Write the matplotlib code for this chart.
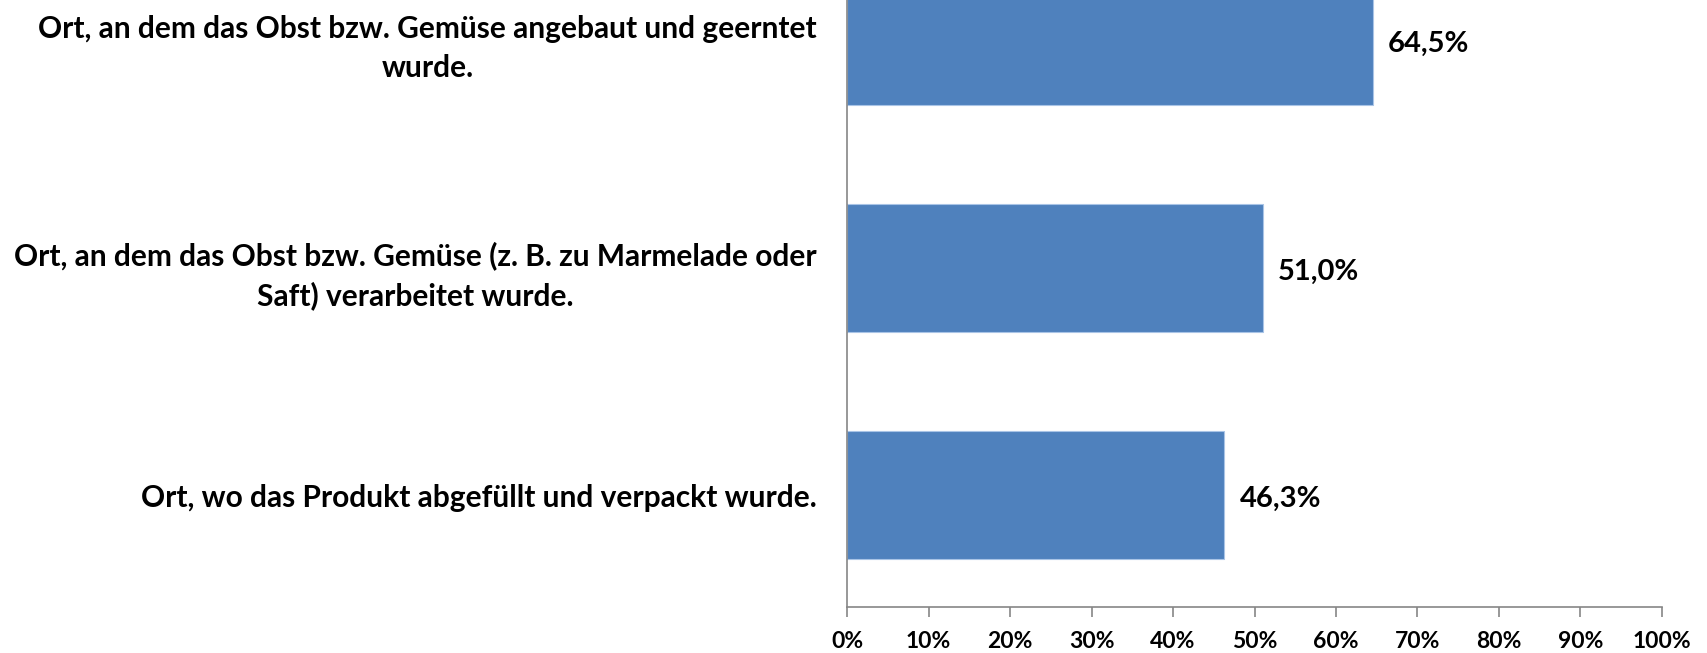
import matplotlib
matplotlib.use("Agg")
import matplotlib.pyplot as plt
from matplotlib.ticker import FuncFormatter

# bottom -> top
categories = [
    "Ort, wo das Produkt abgefüllt und verpackt wurde.",
    "Ort, an dem das Obst bzw. Gemüse (z. B. zu Marmelade oder\nSaft) verarbeitet wurde.",
    "Ort, an dem das Obst bzw. Gemüse angebaut und geerntet\nwurde.",
]
values = [46.3, 51.0, 64.5]
value_labels = ["46,3%", "51,0%", "64,5%"]
xticks = list(range(0, 101, 10))

BAR = "#4f81bd"
AXIS = "#868686"

plt.rcParams["font.family"] = ["Lato", "DejaVu Sans"]
plt.rcParams["font.weight"] = "bold"

fig = plt.figure(figsize=(17.08, 6.53), dpi=100)
ax = fig.add_axes([0.496, 0.0704, 0.477, 0.9296])

y = range(len(categories))
ax.barh(y, values, height=0.565, color=BAR, edgecolor="#a9c4e6", linewidth=0.8)
for yi, v, lab in zip(y, values, value_labels):
    ax.text(v + 1.9, yi - 0.015, lab, va="center", ha="left", fontsize=21, fontweight="bold")

ax.set_xlim(0, 100)
ax.set_ylim(-0.493, 2.18)
ax.set_xticks(xticks)
ax.xaxis.set_major_formatter(FuncFormatter(lambda v, _: f"{v:.0f}%"))
ax.tick_params(axis="x", direction="out", length=7, width=1.2, color=AXIS,
               labelsize=16.5, pad=10)
ax.set_yticks(list(y))
ax.set_yticklabels(categories, fontsize=21.5, fontweight="bold",
                   multialignment="center", linespacing=1.45)
ax.tick_params(axis="y", length=0, pad=22)
for lbl in ax.get_xticklabels():
    lbl.set_fontweight("bold")

for s in ("top", "right"):
    ax.spines[s].set_visible(False)
for s in ("left", "bottom"):
    ax.spines[s].set_color(AXIS)
    ax.spines[s].set_linewidth(1.2)

fig.savefig("out.png", dpi=100)
